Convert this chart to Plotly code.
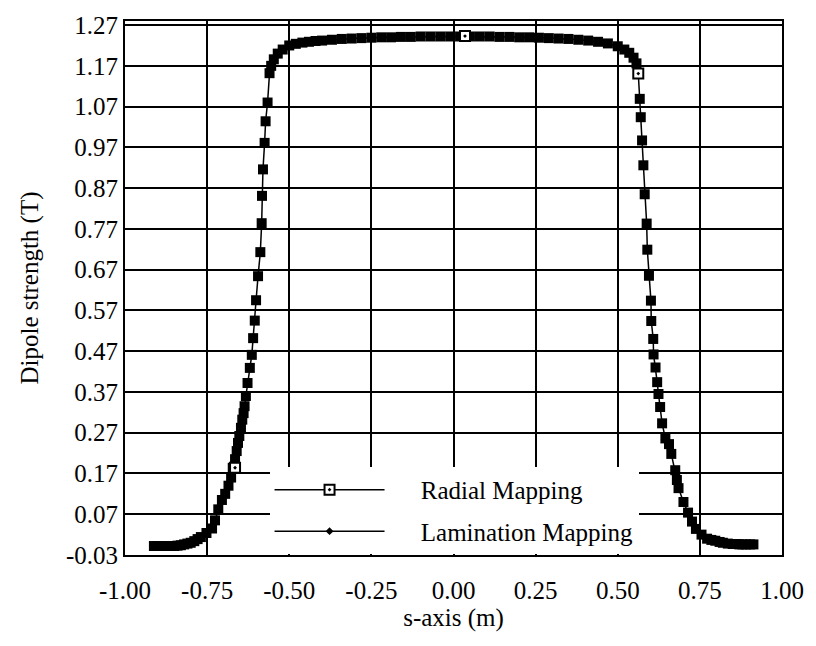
import plotly.graph_objects as go

# ---------------- data ----------------
lam_x = [-0.912, -0.90, -0.89, -0.88, -0.87, -0.86, -0.85, -0.84, -0.83, -0.82, -0.81, -0.80,
         -0.789, -0.779, -0.769, -0.752, -0.735, -0.726, -0.716, -0.705, -0.695, -0.685, -0.677,
         -0.672, -0.665, -0.660, -0.656, -0.652, -0.647, -0.643, -0.639, -0.636, -0.632, -0.627,
         -0.620, -0.614, -0.610, -0.605, -0.601, -0.595, -0.588, -0.584, -0.583, -0.580, -0.575,
         -0.572, -0.566, -0.560, -0.555, -0.547, -0.535, -0.520,
         -0.50, -0.48, -0.46, -0.44, -0.42, -0.40, -0.37, -0.34, -0.31, -0.28, -0.25, -0.22,
         -0.19, -0.16, -0.13, -0.10, -0.07, -0.04, -0.01, 0.02, 0.05, 0.08, 0.11, 0.14, 0.17,
         0.20, 0.23, 0.26, 0.29, 0.32, 0.35, 0.38, 0.41, 0.44, 0.47, 0.50,
         0.52, 0.535, 0.548, 0.557, 0.5625, 0.567, 0.570, 0.574, 0.578, 0.582,
         0.588, 0.590, 0.595, 0.601, 0.602, 0.608, 0.609, 0.615, 0.620, 0.624, 0.629, 0.635,
         0.645, 0.656, 0.663, 0.675, 0.680, 0.685, 0.700, 0.714, 0.726, 0.738, 0.755, 0.772,
         0.785, 0.797, 0.81, 0.82, 0.835, 0.85, 0.86, 0.87, 0.88, 0.89, 0.903, 0.913]
lam_y = [-0.008, -0.008, -0.008, -0.008, -0.008, -0.008, -0.008, -0.007, -0.006, -0.004, -0.002, 0.000,
         0.004, 0.009, 0.014, 0.024, 0.035, 0.055, 0.082, 0.105, 0.120, 0.140, 0.160,
         0.184, 0.205, 0.225, 0.245, 0.262, 0.282, 0.302, 0.318, 0.335, 0.360, 0.392,
         0.429, 0.461, 0.502, 0.545, 0.595, 0.654, 0.713, 0.784, 0.851, 0.916, 0.981,
         1.034, 1.080, 1.152, 1.170, 1.186, 1.200, 1.210,
         1.220, 1.224, 1.227, 1.229, 1.231, 1.232, 1.234, 1.236, 1.237, 1.238, 1.239, 1.240,
         1.240, 1.241, 1.241, 1.242, 1.242, 1.242, 1.242, 1.242, 1.242, 1.242, 1.242, 1.241, 1.241,
         1.240, 1.240, 1.239, 1.238, 1.237, 1.236, 1.234, 1.232, 1.229, 1.225, 1.218,
         1.210, 1.202, 1.190, 1.176, 1.151, 1.089, 1.044, 0.987, 0.926, 0.855,
         0.783, 0.719, 0.655, 0.594, 0.544, 0.500, 0.462, 0.430, 0.394, 0.365, 0.333, 0.293,
         0.256, 0.242, 0.218, 0.178, 0.154, 0.134, 0.100, 0.074, 0.052, 0.034, 0.020, 0.010,
         0.007, 0.005, 0.002, 0.000, -0.002, -0.003, -0.003, -0.004, -0.004, -0.004, -0.004, -0.004]

rad_x = [-0.665, None, 0.035, None, 0.5625]
rad_y = [0.184, None, 1.243, None, 1.151]

x_ticks = [-1.00, -0.75, -0.50, -0.25, 0.00, 0.25, 0.50, 0.75, 1.00]
x_tick_text = ["-1.00", "-0.75", "-0.50", "-0.25", "0.00", "0.25", "0.50", "0.75", "1.00"]
y_ticks = [-0.03, 0.07, 0.17, 0.27, 0.37, 0.47, 0.57, 0.67, 0.77, 0.87, 0.97, 1.07, 1.17, 1.27]
y_tick_text = ["-0.03", "0.07", "0.17", "0.27", "0.37", "0.47", "0.57", "0.67", "0.77",
               "0.87", "0.97", "1.07", "1.17", "1.27"]

x_title = "s-axis (m)"
y_title = "Dipole strength (T)"
rad_name = "Radial Mapping"
lam_name = "Lamination Mapping"

# ---------------- figure ----------------
FONT = "Liberation Serif"
PAD = "\u00a0" * 5  # gap between legend line and legend text

fig = go.Figure()

fig.add_trace(go.Scatter(
    x=lam_x, y=lam_y, mode="lines+markers", name=lam_name,
    line=dict(color="black", width=1.5),
    marker=dict(symbol="square", size=10, color="black"),
    showlegend=False, legendgroup="lam"))

fig.add_trace(go.Scatter(
    x=rad_x, y=rad_y, mode="lines+markers", name=PAD + rad_name,
    line=dict(color="black", width=1.5),
    marker=dict(symbol="square-dot", size=10, color="white",
                line=dict(color="black", width=2)),
    legendgroup="rad", legendrank=1))

fig.add_trace(go.Scatter(
    x=[None], y=[None], mode="lines+markers", name=PAD + lam_name,
    line=dict(color="black", width=1.5),
    marker=dict(symbol="diamond", size=6, color="black"),
    legendgroup="lam", legendrank=2))

axis_common = dict(
    showline=True, linecolor="black", linewidth=2, mirror=True,
    showgrid=True, gridcolor="black", gridwidth=1.5,
    zeroline=False, ticks="",
    tickfont=dict(family=FONT, size=25, color="black"),
)

fig.update_xaxes(
    range=[-1.0, 1.0], tickvals=x_ticks, ticktext=x_tick_text,
    title=dict(text=x_title, font=dict(family=FONT, size=25, color="black"), standoff=2),
    ticklabelstandoff=12,
    **axis_common)
fig.update_yaxes(
    range=[-0.03, 1.28], tickvals=y_ticks, ticktext=y_tick_text,
    title=dict(text=y_title, font=dict(family=FONT, size=25, color="black"), standoff=20),
    **axis_common)

fig.update_layout(
    width=816, height=646,
    margin=dict(l=125, r=26, t=17, b=91),
    paper_bgcolor="white", plot_bgcolor="white",
    legend=dict(
        x=0.22, y=0.165, xanchor="left", yanchor="top",
        bgcolor="white", borderwidth=0,
        font=dict(family=FONT, size=25, color="black"),
        itemwidth=110, traceorder="grouped", tracegroupgap=6,
    ),
)

fig.write_html("out.html")
